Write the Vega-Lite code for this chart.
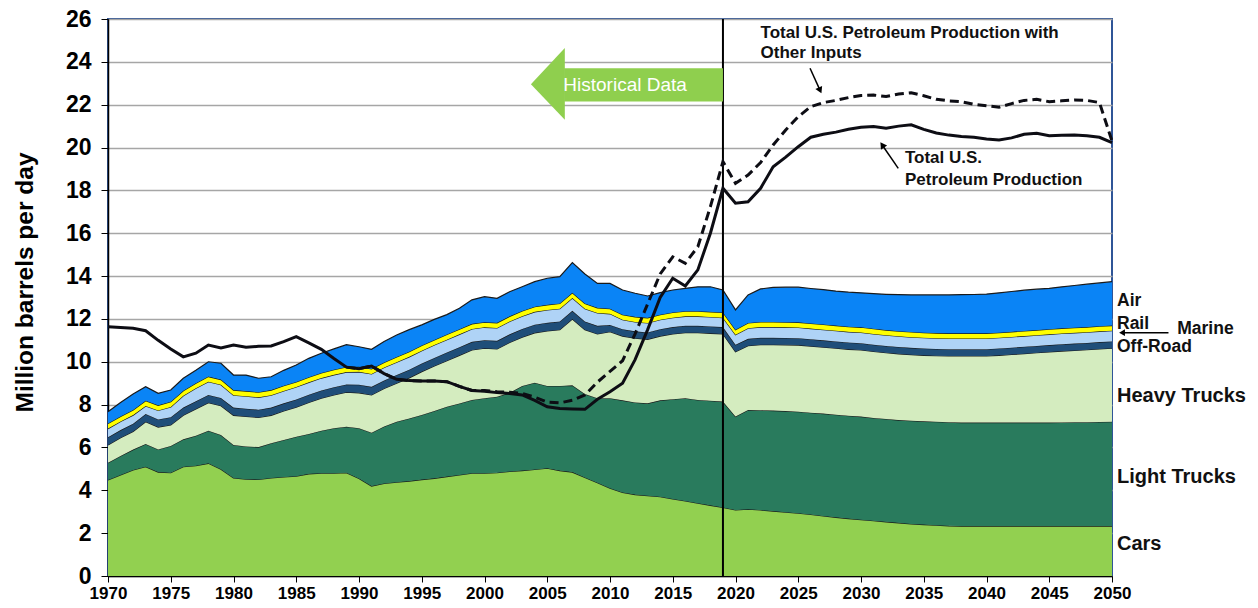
{
  "$schema": "https://vega.github.io/schema/vega-lite/v6.json",
  "width": 1004,
  "height": 557,
  "autosize": "none",
  "padding": {"left": 108, "top": 19, "right": 146, "bottom": 32},
  "background": "white",
  "config": {
    "font": "Liberation Sans",
    "view": {"stroke": "#2F5597", "strokeWidth": 2},
    "axis": {"labelFont": "Liberation Sans", "titleFont": "Liberation Sans", "labelColor": "black", "titleColor": "black", "domainColor": "black", "tickColor": "black"}
  },
  "datasets": {
    "d": [
      {"year":1970,"c":4.48,"l":5.29,"h":6.12,"o":6.48,"m":6.88,"r":7.12,"a":7.67,"p":11.64,"q":null},
      {"year":1971,"c":4.72,"l":5.6,"h":6.45,"o":6.81,"m":7.21,"r":7.45,"a":8.1,"p":11.6,"q":null},
      {"year":1972,"c":4.95,"l":5.9,"h":6.75,"o":7.11,"m":7.51,"r":7.75,"a":8.5,"p":11.56,"q":null},
      {"year":1973,"c":5.1,"l":6.16,"h":7.2,"o":7.56,"m":7.94,"r":8.18,"a":8.84,"p":11.45,"q":null},
      {"year":1974,"c":4.85,"l":5.91,"h":6.95,"o":7.31,"m":7.73,"r":7.97,"a":8.53,"p":11.0,"q":null},
      {"year":1975,"c":4.82,"l":6.07,"h":7.05,"o":7.41,"m":7.89,"r":8.13,"a":8.68,"p":10.6,"q":null},
      {"year":1976,"c":5.1,"l":6.38,"h":7.5,"o":7.86,"m":8.41,"r":8.65,"a":9.23,"p":10.23,"q":null},
      {"year":1977,"c":5.15,"l":6.55,"h":7.8,"o":8.16,"m":8.76,"r":9.0,"a":9.6,"p":10.4,"q":null},
      {"year":1978,"c":5.26,"l":6.78,"h":8.09,"o":8.45,"m":9.07,"r":9.31,"a":10.0,"p":10.78,"q":null},
      {"year":1979,"c":4.98,"l":6.58,"h":7.95,"o":8.31,"m":8.93,"r":9.17,"a":9.93,"p":10.65,"q":null},
      {"year":1980,"c":4.58,"l":6.12,"h":7.5,"o":7.86,"m":8.44,"r":8.68,"a":9.38,"p":10.78,"q":null},
      {"year":1981,"c":4.52,"l":6.05,"h":7.45,"o":7.81,"m":8.39,"r":8.63,"a":9.38,"p":10.68,"q":null},
      {"year":1982,"c":4.51,"l":6.02,"h":7.4,"o":7.76,"m":8.34,"r":8.58,"a":9.23,"p":10.72,"q":null},
      {"year":1983,"c":4.58,"l":6.2,"h":7.5,"o":7.86,"m":8.44,"r":8.68,"a":9.3,"p":10.74,"q":null},
      {"year":1984,"c":4.62,"l":6.35,"h":7.7,"o":8.06,"m":8.64,"r":8.88,"a":9.6,"p":10.94,"q":null},
      {"year":1985,"c":4.66,"l":6.5,"h":7.88,"o":8.24,"m":8.82,"r":9.06,"a":9.85,"p":11.17,"q":null},
      {"year":1986,"c":4.77,"l":6.63,"h":8.1,"o":8.46,"m":9.04,"r":9.28,"a":10.16,"p":10.88,"q":null},
      {"year":1987,"c":4.8,"l":6.78,"h":8.3,"o":8.66,"m":9.24,"r":9.48,"a":10.4,"p":10.58,"q":null},
      {"year":1988,"c":4.8,"l":6.9,"h":8.45,"o":8.81,"m":9.39,"r":9.63,"a":10.6,"p":10.15,"q":null},
      {"year":1989,"c":4.82,"l":6.97,"h":8.58,"o":8.94,"m":9.52,"r":9.76,"a":10.8,"p":9.75,"q":9.75},
      {"year":1990,"c":4.55,"l":6.9,"h":8.55,"o":8.93,"m":9.53,"r":9.77,"a":10.7,"p":9.68,"q":9.68},
      {"year":1991,"c":4.2,"l":6.69,"h":8.45,"o":8.83,"m":9.43,"r":9.67,"a":10.58,"p":9.8,"q":9.8},
      {"year":1992,"c":4.32,"l":6.98,"h":8.75,"o":9.13,"m":9.73,"r":9.97,"a":10.95,"p":9.45,"q":9.45},
      {"year":1993,"c":4.38,"l":7.2,"h":9.0,"o":9.38,"m":9.98,"r":10.22,"a":11.25,"p":9.18,"q":9.18},
      {"year":1994,"c":4.43,"l":7.35,"h":9.25,"o":9.63,"m":10.23,"r":10.47,"a":11.5,"p":9.12,"q":9.12},
      {"year":1995,"c":4.5,"l":7.52,"h":9.54,"o":9.92,"m":10.52,"r":10.76,"a":11.72,"p":9.1,"q":9.1},
      {"year":1996,"c":4.56,"l":7.7,"h":9.8,"o":10.18,"m":10.78,"r":11.02,"a":11.98,"p":9.1,"q":9.1},
      {"year":1997,"c":4.64,"l":7.9,"h":10.05,"o":10.43,"m":11.03,"r":11.27,"a":12.2,"p":9.07,"q":9.07},
      {"year":1998,"c":4.72,"l":8.05,"h":10.3,"o":10.68,"m":11.28,"r":11.52,"a":12.5,"p":8.85,"q":8.85},
      {"year":1999,"c":4.8,"l":8.22,"h":10.55,"o":10.93,"m":11.53,"r":11.77,"a":12.89,"p":8.66,"q":8.66},
      {"year":2000,"c":4.8,"l":8.3,"h":10.63,"o":11.01,"m":11.61,"r":11.85,"a":13.04,"p":8.62,"q":8.66},
      {"year":2001,"c":4.82,"l":8.37,"h":10.6,"o":10.98,"m":11.58,"r":11.82,"a":12.96,"p":8.56,"q":8.6},
      {"year":2002,"c":4.88,"l":8.55,"h":10.9,"o":11.28,"m":11.88,"r":12.12,"a":13.27,"p":8.52,"q":8.58},
      {"year":2003,"c":4.92,"l":8.87,"h":11.15,"o":11.53,"m":12.13,"r":12.37,"a":13.5,"p":8.45,"q":8.52},
      {"year":2004,"c":4.97,"l":9.02,"h":11.35,"o":11.73,"m":12.33,"r":12.57,"a":13.74,"p":8.2,"q":8.35},
      {"year":2005,"c":5.03,"l":8.87,"h":11.44,"o":11.82,"m":12.42,"r":12.66,"a":13.9,"p":7.9,"q":8.12},
      {"year":2006,"c":4.92,"l":8.87,"h":11.5,"o":11.88,"m":12.48,"r":12.72,"a":13.97,"p":7.82,"q":8.08},
      {"year":2007,"c":4.85,"l":8.9,"h":12.0,"o":12.38,"m":12.98,"r":13.22,"a":14.63,"p":7.8,"q":8.2},
      {"year":2008,"c":4.6,"l":8.5,"h":11.5,"o":11.88,"m":12.48,"r":12.72,"a":14.1,"p":7.78,"q":8.45},
      {"year":2009,"c":4.35,"l":8.3,"h":11.3,"o":11.68,"m":12.28,"r":12.52,"a":13.66,"p":8.25,"q":9.05},
      {"year":2010,"c":4.1,"l":8.3,"h":11.4,"o":11.72,"m":12.24,"r":12.48,"a":13.66,"p":8.6,"q":9.55},
      {"year":2011,"c":3.9,"l":8.2,"h":11.2,"o":11.52,"m":11.96,"r":12.2,"a":13.35,"p":9.0,"q":10.05},
      {"year":2012,"c":3.8,"l":8.1,"h":11.1,"o":11.42,"m":11.86,"r":12.1,"a":13.2,"p":10.1,"q":11.3},
      {"year":2013,"c":3.75,"l":8.06,"h":11.05,"o":11.37,"m":11.81,"r":12.05,"a":13.07,"p":11.5,"q":12.7},
      {"year":2014,"c":3.7,"l":8.2,"h":11.2,"o":11.52,"m":11.96,"r":12.2,"a":13.23,"p":13.0,"q":14.1},
      {"year":2015,"c":3.6,"l":8.25,"h":11.3,"o":11.62,"m":12.06,"r":12.3,"a":13.35,"p":13.9,"q":14.9},
      {"year":2016,"c":3.5,"l":8.3,"h":11.36,"o":11.68,"m":12.12,"r":12.36,"a":13.43,"p":13.54,"q":14.6},
      {"year":2017,"c":3.4,"l":8.22,"h":11.36,"o":11.68,"m":12.12,"r":12.36,"a":13.5,"p":14.29,"q":15.37},
      {"year":2018,"c":3.3,"l":8.18,"h":11.33,"o":11.65,"m":12.09,"r":12.33,"a":13.5,"p":16.0,"q":17.24},
      {"year":2019,"c":3.2,"l":8.14,"h":11.3,"o":11.62,"m":12.06,"r":12.3,"a":13.35,"p":18.1,"q":19.34},
      {"year":2020,"c":3.08,"l":7.44,"h":10.47,"o":10.79,"m":11.26,"r":11.5,"a":12.42,"p":17.4,"q":18.33},
      {"year":2021,"c":3.12,"l":7.75,"h":10.75,"o":11.07,"m":11.57,"r":11.81,"a":13.12,"p":17.47,"q":18.72},
      {"year":2022,"c":3.08,"l":7.74,"h":10.8,"o":11.12,"m":11.62,"r":11.86,"a":13.4,"p":18.1,"q":19.3},
      {"year":2023,"c":3.03,"l":7.72,"h":10.8,"o":11.12,"m":11.62,"r":11.86,"a":13.47,"p":19.1,"q":20.12},
      {"year":2024,"c":2.98,"l":7.7,"h":10.79,"o":11.11,"m":11.61,"r":11.85,"a":13.48,"p":19.55,"q":20.82},
      {"year":2025,"c":2.93,"l":7.67,"h":10.78,"o":11.1,"m":11.6,"r":11.84,"a":13.48,"p":20.04,"q":21.44},
      {"year":2026,"c":2.87,"l":7.62,"h":10.73,"o":11.05,"m":11.55,"r":11.79,"a":13.42,"p":20.48,"q":21.91},
      {"year":2027,"c":2.8,"l":7.58,"h":10.68,"o":11.0,"m":11.5,"r":11.74,"a":13.37,"p":20.62,"q":22.1},
      {"year":2028,"c":2.74,"l":7.53,"h":10.63,"o":10.95,"m":11.45,"r":11.69,"a":13.3,"p":20.72,"q":22.2},
      {"year":2029,"c":2.68,"l":7.48,"h":10.58,"o":10.9,"m":11.4,"r":11.64,"a":13.25,"p":20.85,"q":22.33},
      {"year":2030,"c":2.63,"l":7.44,"h":10.55,"o":10.87,"m":11.37,"r":11.61,"a":13.22,"p":20.95,"q":22.43},
      {"year":2031,"c":2.58,"l":7.38,"h":10.48,"o":10.8,"m":11.3,"r":11.54,"a":13.18,"p":20.98,"q":22.45},
      {"year":2032,"c":2.53,"l":7.33,"h":10.42,"o":10.74,"m":11.24,"r":11.48,"a":13.15,"p":20.9,"q":22.38},
      {"year":2033,"c":2.48,"l":7.28,"h":10.37,"o":10.69,"m":11.19,"r":11.43,"a":13.13,"p":21.0,"q":22.5},
      {"year":2034,"c":2.43,"l":7.25,"h":10.33,"o":10.65,"m":11.15,"r":11.39,"a":13.12,"p":21.06,"q":22.56},
      {"year":2035,"c":2.4,"l":7.22,"h":10.3,"o":10.62,"m":11.12,"r":11.36,"a":13.12,"p":20.85,"q":22.42},
      {"year":2036,"c":2.37,"l":7.2,"h":10.28,"o":10.6,"m":11.1,"r":11.34,"a":13.12,"p":20.68,"q":22.25},
      {"year":2037,"c":2.34,"l":7.18,"h":10.27,"o":10.59,"m":11.09,"r":11.33,"a":13.12,"p":20.58,"q":22.18},
      {"year":2038,"c":2.33,"l":7.16,"h":10.27,"o":10.59,"m":11.09,"r":11.33,"a":13.13,"p":20.51,"q":22.14},
      {"year":2039,"c":2.33,"l":7.16,"h":10.27,"o":10.59,"m":11.09,"r":11.33,"a":13.14,"p":20.48,"q":22.02},
      {"year":2040,"c":2.33,"l":7.16,"h":10.27,"o":10.59,"m":11.09,"r":11.33,"a":13.16,"p":20.4,"q":21.95},
      {"year":2041,"c":2.33,"l":7.16,"h":10.3,"o":10.62,"m":11.12,"r":11.36,"a":13.22,"p":20.35,"q":21.88},
      {"year":2042,"c":2.33,"l":7.16,"h":10.34,"o":10.66,"m":11.16,"r":11.4,"a":13.28,"p":20.45,"q":22.05},
      {"year":2043,"c":2.33,"l":7.16,"h":10.38,"o":10.7,"m":11.2,"r":11.44,"a":13.34,"p":20.62,"q":22.2},
      {"year":2044,"c":2.33,"l":7.16,"h":10.42,"o":10.74,"m":11.24,"r":11.48,"a":13.39,"p":20.67,"q":22.25},
      {"year":2045,"c":2.33,"l":7.16,"h":10.46,"o":10.78,"m":11.28,"r":11.52,"a":13.43,"p":20.55,"q":22.14},
      {"year":2046,"c":2.33,"l":7.17,"h":10.5,"o":10.82,"m":11.32,"r":11.56,"a":13.5,"p":20.57,"q":22.18},
      {"year":2047,"c":2.33,"l":7.18,"h":10.53,"o":10.85,"m":11.35,"r":11.59,"a":13.56,"p":20.59,"q":22.22},
      {"year":2048,"c":2.33,"l":7.18,"h":10.56,"o":10.88,"m":11.38,"r":11.62,"a":13.62,"p":20.55,"q":22.2},
      {"year":2049,"c":2.33,"l":7.19,"h":10.6,"o":10.92,"m":11.42,"r":11.66,"a":13.68,"p":20.48,"q":22.1},
      {"year":2050,"c":2.33,"l":7.2,"h":10.63,"o":10.95,"m":11.45,"r":11.69,"a":13.74,"p":20.23,"q":20.3}
    ],
    "head": [
      {"x":2003.7,"top":22.95,"bot":22.95},
      {"x":2006.4,"top":24.65,"bot":21.3}
    ],
    "shaft": [
      {"x":2006.35,"top":23.7,"bot":22.15},
      {"x":2019,"top":23.7,"bot":22.15}
    ],
    "notes": [
      {"x":2022.0,"y":25.35,"t":"Total U.S. Petroleum Production with"},
      {"x":2022.0,"y":24.42,"t":"Other Inputs"},
      {"x":2033.5,"y":19.51,"t":"Total U.S."},
      {"x":2033.5,"y":18.49,"t":"Petroleum Production"}
    ],
    "small": [
      {"x":2050,"y":12.84,"t":"Air"},
      {"x":2050,"y":11.78,"t":"Rail"},
      {"x":2054.8,"y":11.52,"t":"Marine"},
      {"x":2050,"y":10.68,"t":"Off-Road"}
    ],
    "big": [
      {"x":2050,"y":8.4,"t":"Heavy Trucks"},
      {"x":2050,"y":4.64,"t":"Light Trucks"},
      {"x":2050,"y":1.51,"t":"Cars"}
    ],
    "one": [{}]
  },
  "layer": [
    {
      "data": {"name": "d"},
      "mark": {"type": "area", "color": "#92D050", "opacity": 1, "line": {"color": "#1a1a1a", "strokeWidth": 1.2}},
      "encoding": {
        "x": {"field": "year", "type": "quantitative", "title": null, "scale": {"domain": [1970, 2050], "nice": false, "zero": false},
          "axis": {"values": [1970,1975,1980,1985,1990,1995,2000,2005,2010,2015,2020,2025,2030,2035,2040,2045,2050], "format": "d", "grid": false, "labelFontSize": 17, "labelFontWeight": "bold", "tickSize": 6, "labelPadding": 3, "domainWidth": 1.5, "labelFlush": false}},
        "y": {"field": "c", "type": "quantitative", "title": "Million barrels per day", "scale": {"domain": [0, 26], "nice": false},
          "axis": {"values": [0,2,4,6,8,10,12,14,16,18,20,22,24,26], "titleFontSize": 24.5, "titleFontWeight": "bold", "titlePadding": 28, "titleY": 263, "labelFontSize": 23, "labelFontWeight": "bold", "tickSize": 7, "labelPadding": 10, "grid": true, "gridColor": "#A6A6A6", "gridWidth": 1.5, "domainWidth": 1.5}},
        "y2": {"datum": 0}
      }
    },
    {
      "data": {"name": "d"},
      "mark": {"type": "area", "color": "#297B5D", "opacity": 1, "line": {"color": "#1a1a1a", "strokeWidth": 1.2}},
      "encoding": {"x": {"field": "year", "type": "quantitative", "title": null}, "y": {"field": "l", "type": "quantitative", "title": "Million barrels per day"}, "y2": {"field": "c"}}
    },
    {
      "data": {"name": "d"},
      "mark": {"type": "area", "color": "#D4ECBF", "opacity": 1, "line": {"color": "#1a1a1a", "strokeWidth": 1.2}},
      "encoding": {"x": {"field": "year", "type": "quantitative", "title": null}, "y": {"field": "h", "type": "quantitative", "title": "Million barrels per day"}, "y2": {"field": "l"}}
    },
    {
      "data": {"name": "d"},
      "mark": {"type": "area", "color": "#1F4E79", "opacity": 1, "line": {"color": "#1a1a1a", "strokeWidth": 1.2}},
      "encoding": {"x": {"field": "year", "type": "quantitative", "title": null}, "y": {"field": "o", "type": "quantitative", "title": "Million barrels per day"}, "y2": {"field": "h"}}
    },
    {
      "data": {"name": "d"},
      "mark": {"type": "area", "color": "#AFD3F6", "opacity": 1, "line": {"color": "#1a1a1a", "strokeWidth": 1.2}},
      "encoding": {"x": {"field": "year", "type": "quantitative", "title": null}, "y": {"field": "m", "type": "quantitative", "title": "Million barrels per day"}, "y2": {"field": "o"}}
    },
    {
      "data": {"name": "d"},
      "mark": {"type": "area", "color": "#FFFF00", "opacity": 1, "line": {"color": "#1a1a1a", "strokeWidth": 1.2}},
      "encoding": {"x": {"field": "year", "type": "quantitative", "title": null}, "y": {"field": "r", "type": "quantitative", "title": "Million barrels per day"}, "y2": {"field": "m"}}
    },
    {
      "data": {"name": "d"},
      "mark": {"type": "area", "color": "#0A84F6", "opacity": 1, "line": {"color": "#1a1a1a", "strokeWidth": 1.2}},
      "encoding": {"x": {"field": "year", "type": "quantitative", "title": null}, "y": {"field": "a", "type": "quantitative", "title": "Million barrels per day"}, "y2": {"field": "r"}}
    },
    {
      "data": {"name": "one"},
      "mark": {"type": "rule", "color": "black", "strokeWidth": 2},
      "encoding": {"x": {"datum": 2019, "type": "quantitative", "title": null}}
    },
    {
      "data": {"name": "d"},
      "mark": {"type": "line", "color": "#0d0d14", "strokeWidth": 3},
      "encoding": {"x": {"field": "year", "type": "quantitative", "title": null}, "y": {"field": "p", "type": "quantitative", "title": "Million barrels per day"}}
    },
    {
      "data": {"name": "d"},
      "mark": {"type": "line", "color": "#0d0d14", "strokeWidth": 3, "strokeDash": [9, 5]},
      "encoding": {"x": {"field": "year", "type": "quantitative", "title": null}, "y": {"field": "q", "type": "quantitative", "title": "Million barrels per day"}}
    },
    {
      "data": {"name": "head"},
      "mark": {"type": "area", "color": "#8FCF4E", "opacity": 1},
      "encoding": {"x": {"field": "x", "type": "quantitative", "title": null}, "y": {"field": "top", "type": "quantitative", "title": "Million barrels per day"}, "y2": {"field": "bot"}}
    },
    {
      "data": {"name": "shaft"},
      "mark": {"type": "area", "color": "#8FCF4E", "opacity": 1},
      "encoding": {"x": {"field": "x", "type": "quantitative", "title": null}, "y": {"field": "top", "type": "quantitative", "title": "Million barrels per day"}, "y2": {"field": "bot"}}
    },
    {
      "data": {"name": "one"},
      "mark": {"type": "text", "text": "Historical Data", "color": "white", "fontSize": 19, "align": "center", "baseline": "middle"},
      "encoding": {"x": {"datum": 2011.2, "type": "quantitative", "title": null}, "y": {"datum": 22.92, "type": "quantitative", "title": "Million barrels per day"}}
    },
    {
      "data": {"name": "notes"},
      "mark": {"type": "text", "fontSize": 17, "fontWeight": "bold", "align": "left", "baseline": "middle", "color": "#111"},
      "encoding": {"x": {"field": "x", "type": "quantitative", "title": null}, "y": {"field": "y", "type": "quantitative", "title": "Million barrels per day"}, "text": {"field": "t"}}
    },
    {
      "data": {"name": "one"},
      "mark": {"type": "rule", "color": "black", "strokeWidth": 1.5},
      "encoding": {"x": {"datum": 2025.94, "type": "quantitative", "title": null}, "y": {"datum": 23.7, "type": "quantitative", "title": "Million barrels per day"}, "x2": {"datum": 2026.74}, "y2": {"datum": 22.67}}
    },
    {
      "data": {"name": "one"},
      "mark": {"type": "point", "shape": "triangle-down", "filled": true, "color": "black", "size": 55, "angle": -24.5, "opacity": 1},
      "encoding": {"x": {"datum": 2026.74, "type": "quantitative", "title": null}, "y": {"datum": 22.67, "type": "quantitative", "title": "Million barrels per day"}}
    },
    {
      "data": {"name": "one"},
      "mark": {"type": "rule", "color": "black", "strokeWidth": 1.5},
      "encoding": {"x": {"datum": 2032.97, "type": "quantitative", "title": null}, "y": {"datum": 19.03, "type": "quantitative", "title": "Million barrels per day"}, "x2": {"datum": 2031.69}, "y2": {"datum": 20.12}}
    },
    {
      "data": {"name": "one"},
      "mark": {"type": "point", "shape": "triangle-up", "filled": true, "color": "black", "size": 55, "angle": -34.5, "opacity": 1},
      "encoding": {"x": {"datum": 2031.69, "type": "quantitative", "title": null}, "y": {"datum": 20.12, "type": "quantitative", "title": "Million barrels per day"}}
    },
    {
      "data": {"name": "one"},
      "mark": {"type": "rule", "color": "black", "strokeWidth": 1.5},
      "encoding": {"x": {"datum": 2050.8, "type": "quantitative", "title": null}, "y": {"datum": 11.36, "type": "quantitative", "title": "Million barrels per day"}, "x2": {"datum": 2054.5}}
    },
    {
      "data": {"name": "one"},
      "mark": {"type": "point", "shape": "triangle-left", "filled": true, "color": "black", "size": 45, "opacity": 1},
      "encoding": {"x": {"datum": 2050.8, "type": "quantitative", "title": null}, "y": {"datum": 11.36, "type": "quantitative", "title": "Million barrels per day"}}
    },
    {
      "data": {"name": "small"},
      "mark": {"type": "text", "fontSize": 17.5, "fontWeight": "bold", "align": "left", "baseline": "middle", "dx": 5, "color": "#111"},
      "encoding": {"x": {"field": "x", "type": "quantitative", "title": null}, "y": {"field": "y", "type": "quantitative", "title": "Million barrels per day"}, "text": {"field": "t"}}
    },
    {
      "data": {"name": "big"},
      "mark": {"type": "text", "fontSize": 20, "fontWeight": "bold", "align": "left", "baseline": "middle", "dx": 5, "color": "#111"},
      "encoding": {"x": {"field": "x", "type": "quantitative", "title": null}, "y": {"field": "y", "type": "quantitative", "title": "Million barrels per day"}, "text": {"field": "t"}}
    }
  ]
}
